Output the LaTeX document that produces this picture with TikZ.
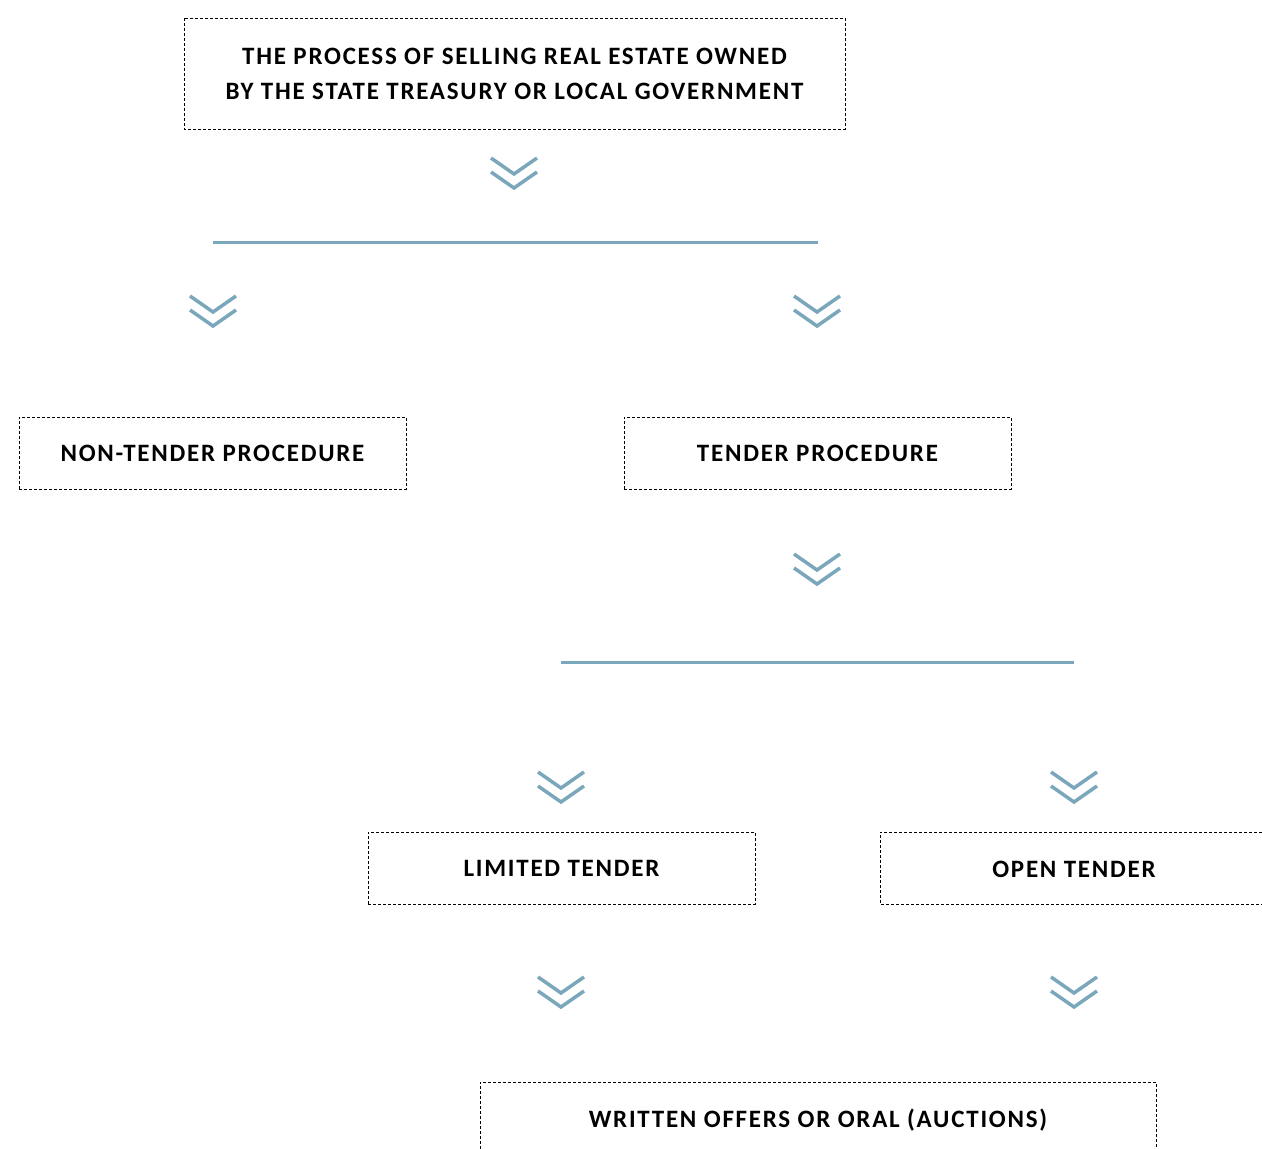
\documentclass[tikz,border=0pt]{standalone}
\usepackage{fontspec}
\setmainfont{Carlito}[LetterSpace=7]
\definecolor{chev}{HTML}{7BA7BC}
\tikzset{
  x=1pt, y=-1pt,
  lbl/.style={font=\fontsize{25}{35}\selectfont\bfseries, align=center},
  box/.style={lbl, draw=black, densely dashed, line width=0.9pt, inner sep=0pt},
  dbox/.style={draw=black, densely dashed, line width=0.9pt},
  hline/.style={draw=chev, line width=3pt},
  chevron/.pic={\draw[chev, line width=3.5pt, line join=miter] (-23,-16) -- (0,0) -- (23,-16) (-23,-2) -- (0,14) -- (23,-2);}
}
\begin{document}
\begin{tikzpicture}
\useasboundingbox (0,0) rectangle (1262,1149);
\draw[dbox] (184,18) rectangle (845,129);
\node[lbl] (top) at (514.5,73.5) {THE PROCESS OF SELLING REAL ESTATE OWNED\\BY THE STATE TREASURY OR LOCAL GOVERNMENT};
\node[box, minimum width=387pt, minimum height=72pt] (non) at (212.5,453) {NON-TENDER PROCEDURE};
\node[box, minimum width=387pt, minimum height=72pt] (ten) at (817.5,453) {TENDER PROCEDURE};
\node[box, minimum width=387pt, minimum height=72pt] (lim) at (561.5,868) {LIMITED TENDER};
\draw[dbox] (1262,832) -- (880,832) -- (880,904) -- (1262,904);
\node[lbl] (open) at (1074,869) {OPEN TENDER};
\draw[dbox] (480,1149) -- (480,1082) -- (1156,1082) -- (1156,1149);
\node[lbl] (wr) at (818,1120) {WRITTEN OFFERS OR ORAL (AUCTIONS)};
\coordinate (s1) at (213,242); \coordinate (e1) at (818,242);
\coordinate (s2) at (561,662); \coordinate (e2) at (1074,662);
\draw[hline] (s1) -- (e1);
\draw[hline] (s2) -- (e2);
\pic at (514,174) {chevron};
\pic at (213,312) {chevron};
\pic at (817,312) {chevron};
\pic at (817,570) {chevron};
\pic at (561,788) {chevron};
\pic at (1074,788) {chevron};
\pic at (561,993) {chevron};
\pic at (1074,993) {chevron};
\end{tikzpicture}
\end{document}
